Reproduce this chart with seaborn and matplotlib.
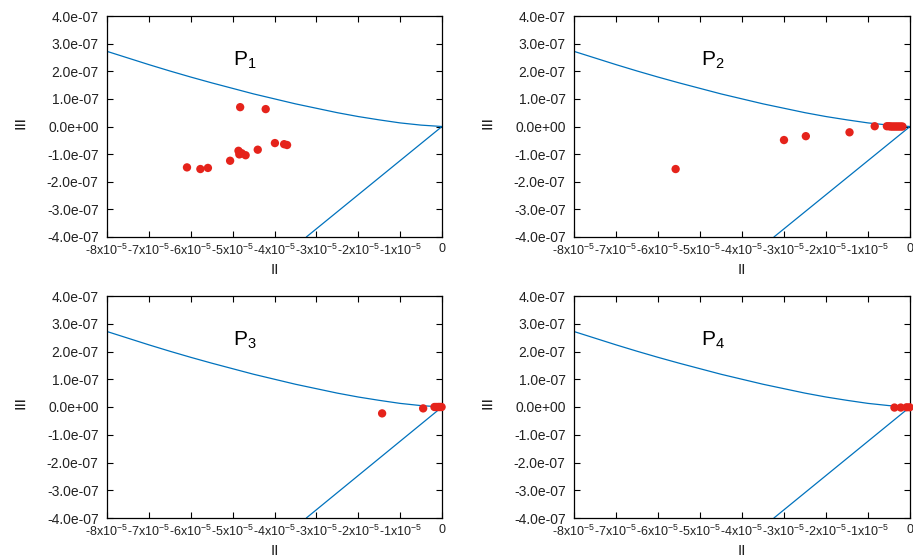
import matplotlib
matplotlib.use("Agg")
import matplotlib.pyplot as plt
import seaborn as sns
import pandas as pd
from matplotlib.ticker import FixedLocator, FixedFormatter

# ---------------- data ----------------
panel_names = ["P$_{\\mathrm{1}}$", "P$_{\\mathrm{2}}$", "P$_{\\mathrm{3}}$", "P$_{\\mathrm{4}}$"]

# upper boundary curve
curve_x = [-8e-5, -7.5e-5, -7e-5, -6.5e-5, -6e-5, -5.5e-5, -5e-5, -4.5e-5, -4e-5,
           -3.5e-5, -3e-5, -2.5e-5, -2e-5, -1.5e-5, -1e-5, -0.5e-5, 0.0]
curve_y = [2.72e-7, 2.48e-7, 2.24e-7, 2.01e-7, 1.79e-7, 1.58e-7, 1.38e-7, 1.18e-7, 1.00e-7,
           0.82e-7, 0.66e-7, 0.50e-7, 0.36e-7, 0.24e-7, 0.13e-7, 0.05e-7, 0.0]

# lower boundary straight line
line_x = [-3.24e-5, 0.0]
line_y = [-4.0e-7, 0.0]

p1_x = [-6.09e-5, -5.77e-5, -5.59e-5, -5.06e-5, -4.86e-5, -4.84e-5, -4.78e-5, -4.69e-5,
        -4.82e-5, -4.21e-5, -4.40e-5, -3.99e-5, -3.77e-5, -3.70e-5]
p1_y = [-1.48e-7, -1.54e-7, -1.50e-7, -1.24e-7, -0.88e-7, -1.01e-7, -0.97e-7, -1.04e-7,
        0.70e-7, 0.63e-7, -0.84e-7, -0.60e-7, -0.64e-7, -0.67e-7]

p2_x = [-5.58e-5, -3.00e-5, -2.48e-5, -1.44e-5, -0.84e-5,
        -0.55e-5, -0.50e-5, -0.46e-5, -0.42e-5, -0.38e-5, -0.34e-5, -0.30e-5,
        -0.26e-5, -0.22e-5, -0.18e-5]
p2_y = [-1.54e-7, -0.49e-7, -0.35e-7, -0.21e-7, 0.01e-7,
        0.01e-7, 0.01e-7, 0.0, 0.0, 0.0, 0.0, 0.0, 0.0, 0.0, 0.0]

p3_x = [-1.43e-5, -0.45e-5, -0.18e-5, -0.14e-5, -0.10e-5, -0.07e-5, -0.04e-5, -0.01e-5]
p3_y = [-0.23e-7, -0.05e-7, 0.0, 0.0, 0.0, 0.0, 0.0, 0.0]

p4_x = [-0.37e-5, -0.22e-5, -0.08e-5, -0.01e-5]
p4_y = [-0.02e-7, -0.02e-7, -0.01e-7, -0.01e-7]

xticks = [-8e-5, -7e-5, -6e-5, -5e-5, -4e-5, -3e-5, -2e-5, -1e-5, 0.0]
xtick_labels = ["-8x10$^{\\mathrm{-5}}$", "-7x10$^{\\mathrm{-5}}$", "-6x10$^{\\mathrm{-5}}$",
                "-5x10$^{\\mathrm{-5}}$", "-4x10$^{\\mathrm{-5}}$", "-3x10$^{\\mathrm{-5}}$",
                "-2x10$^{\\mathrm{-5}}$", "-1x10$^{\\mathrm{-5}}$", "0"]
yticks = [-4e-7, -3e-7, -2e-7, -1e-7, 0.0, 1e-7, 2e-7, 3e-7, 4e-7]
ytick_labels = ["-4.0e-07", "-3.0e-07", "-2.0e-07", "-1.0e-07", "0.0e+00",
                "1.0e-07", "2.0e-07", "3.0e-07", "4.0e-07"]

x_label = "II"
y_label = "\u2261"

# ---------------- style ----------------
sns.set_style("white")
plt.rcParams["font.family"] = ["Liberation Sans", "DejaVu Sans"]
plt.rcParams["mathtext.fontset"] = "custom"
plt.rcParams["mathtext.rm"] = "Liberation Sans"
plt.rcParams["mathtext.it"] = "Liberation Sans"
plt.rcParams["axes.unicode_minus"] = False

BLUE = "#0072bd"
RED = "#e5231b"

fig = plt.figure(figsize=(9.13, 5.59), dpi=100)

W, H = 913, 559
boxes = [(107, 16, 335, 221), (574, 16, 336, 221), (107, 296, 335, 222), (574, 296, 336, 222)]
points = [(p1_x, p1_y), (p2_x, p2_y), (p3_x, p3_y), (p4_x, p4_y)]

for i, (l, t, w, h) in enumerate(boxes):
    ax = fig.add_axes([l / W, 1 - (t + h) / H, w / W, h / H])
    curve_df = pd.DataFrame({"x": curve_x, "y": curve_y})
    line_df = pd.DataFrame({"x": line_x, "y": line_y})
    sns.lineplot(data=curve_df, x="x", y="y", ax=ax, color=BLUE, lw=0.9,
                 sort=False, estimator=None)
    sns.lineplot(data=line_df, x="x", y="y", ax=ax, color=BLUE, lw=0.9,
                 sort=False, estimator=None)
    px, py = points[i]
    pts_df = pd.DataFrame({"x": px, "y": py})
    sns.scatterplot(data=pts_df, x="x", y="y", ax=ax, color=RED, s=36,
                    edgecolor="none", zorder=5, clip_on=False)

    ax.set_xlim(-8e-5, 0)
    ax.set_ylim(-4e-7, 4e-7)
    ax.xaxis.set_major_locator(FixedLocator(xticks))
    ax.xaxis.set_major_formatter(FixedFormatter(xtick_labels))
    ax.yaxis.set_major_locator(FixedLocator(yticks))
    ax.yaxis.set_major_formatter(FixedFormatter(ytick_labels))
    ax.tick_params(axis="both", direction="in", length=4, width=0.8, color="black",
                   top=True, right=True, bottom=True, left=True,
                   labelcolor="#222222")
    ax.tick_params(axis="y", pad=6, labelsize=10)
    ax.tick_params(axis="x", pad=4, labelsize=9)
    for sp in ax.spines.values():
        sp.set_visible(True)
        sp.set_color("black")
        sp.set_linewidth(0.9)
    ax.set_xlabel("")
    ax.set_ylabel("")
    ax.text(0.5, -0.15, x_label, transform=ax.transAxes, ha="center", va="center",
            fontsize=11, color="#222222")
    ax.text(-0.26, 0.5, y_label, transform=ax.transAxes, ha="center", va="center",
            fontsize=15, color="#222222")
    ax.text(-4.7e-5, 2.41e-7, panel_names[i], ha="center", va="center",
            fontsize=15, color="black")

fig.savefig("out.png", dpi=100)
